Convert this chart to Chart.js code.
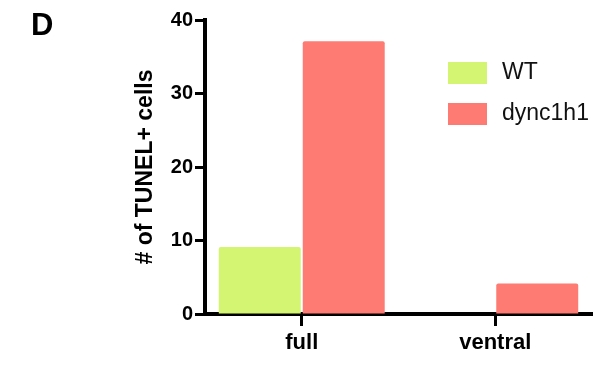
<!DOCTYPE html>
<html>
<head>
<meta charset="utf-8">
<script src="https://cdn.jsdelivr.net/npm/chart.js@4/dist/chart.umd.min.js"></script>
<style>
  html, body { margin: 0; padding: 0; background: #fff; }
  #wrap { position: relative; width: 605px; height: 371px; }
</style>
</head>
<body>
<div id="wrap"><canvas id="mycanvas"></canvas></div>
<script>
var categories = ['full', 'ventral'];
var wt = [9.1, 0];
var dync1h1 = [37.1, 4.15];
var yTicks = [0, 10, 20, 30, 40];

var FONT = '"Liberation Sans", Arial, sans-serif';

// panel letter + legend drawn on top of the chart
var extras = {
    id: 'extras',
    afterDraw: function (chart) {
        var ctx = chart.ctx;
        ctx.save();
        ctx.fillStyle = '#000';
        ctx.font = 'bold 31px ' + FONT;
        ctx.textBaseline = 'alphabetic';
        ctx.textAlign = 'left';
        ctx.fillText('D', 31, 35);

        ctx.font = '23px ' + FONT;
        ctx.textBaseline = 'middle';
        chart.data.datasets.forEach(function (ds, i) {
            var y = 62 + i * 41;
            ctx.fillStyle = ds.backgroundColor;
            ctx.fillRect(448, y, 39, 22);
            ctx.fillStyle = '#111';
            ctx.fillText(ds.label, 502, y + 11);
        });
        ctx.restore();
    }
};

var ctx = document.getElementById('mycanvas');
var barGraph = new Chart(ctx, {
    type: 'bar',
    data: {
        labels: categories,
        datasets: [{
            label: 'WT',
            data: wt,
            backgroundColor: '#d4f572',
            borderWidth: 0,
            borderRadius: 2,
            borderSkipped: 'bottom'
        }, {
            label: 'dync1h1',
            data: dync1h1,
            backgroundColor: '#fe7b74',
            borderWidth: 0,
            borderRadius: 2,
            borderSkipped: 'bottom'
        }]
    },
    options: {
        responsive: true,
        maintainAspectRatio: false,
        animation: false,
        layout: { padding: { left: 0, right: 13, top: 20, bottom: 0 } },
        datasets: {
            bar: { categoryPercentage: 0.868, barPercentage: 0.976 }
        },
        plugins: {
            legend: { display: false },
            tooltip: { enabled: false }
        },
        scales: {
            x: {
                grid: {
                    display: true,
                    drawOnChartArea: false,
                    drawTicks: true,
                    offset: false,
                    tickLength: 12,
                    tickWidth: 3,
                    tickColor: '#000'
                },
                border: { display: true, color: '#000', width: 4 },
                ticks: {
                    color: '#000',
                    padding: 4,
                    font: { family: FONT, size: 22, weight: 'bold' }
                },
                afterFit: function (scale) { scale.height = 57; }
            },
            y: {
                min: 0,
                max: 40,
                afterBuildTicks: function (scale) {
                    scale.ticks = yTicks.map(function (v) { return { value: v }; });
                },
                grid: {
                    display: true,
                    drawOnChartArea: false,
                    drawTicks: true,
                    tickLength: 10,
                    tickWidth: 3,
                    tickColor: '#000'
                },
                border: { display: true, color: '#000', width: 4 },
                ticks: {
                    color: '#000',
                    padding: 2,
                    font: { family: FONT, size: 20, weight: 'bold' }
                },
                title: {
                    display: true,
                    text: '# of TUNEL+ cells',
                    color: '#000',
                    padding: { top: 132, bottom: 0 },
                    font: { family: FONT, size: 23, weight: 'bold' }
                },
                afterFit: function (scale) { scale.width = 205; }
            }
        }
    },
    plugins: [extras]
});
</script>
</body>
</html>
